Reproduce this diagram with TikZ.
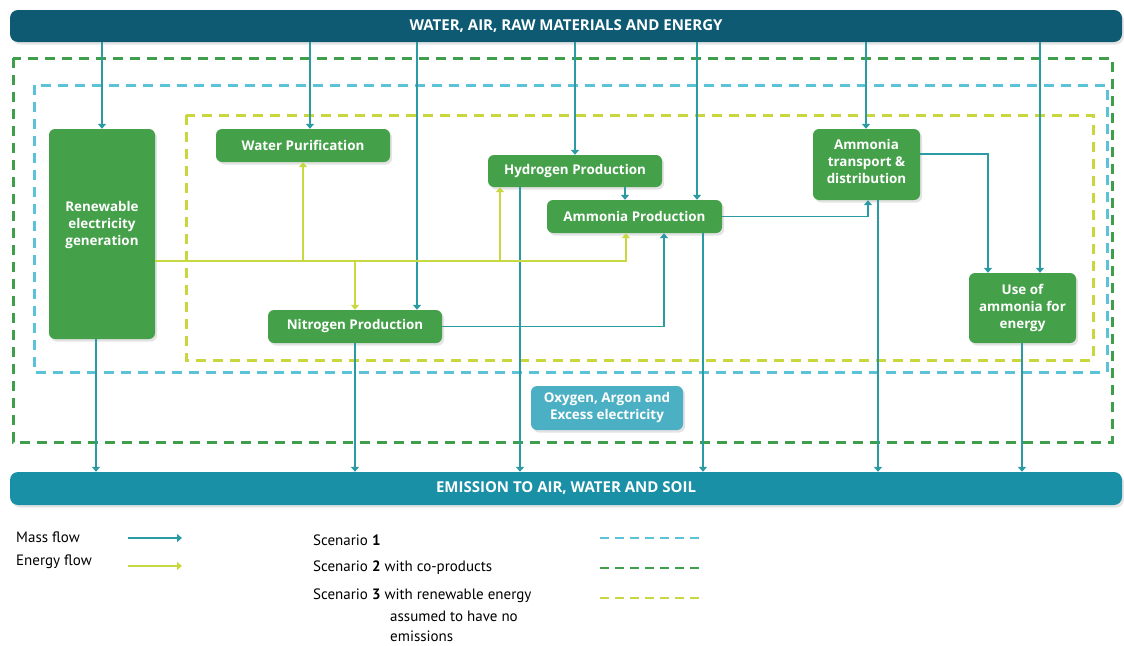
\documentclass[tikz,border=0pt]{standalone}
\usepackage{fontspec}
\setmainfont{Open Sans}
\newfontfamily\legendfont{PT Sans}
\usetikzlibrary{arrows.meta,shadows}
\definecolor{topbar}{HTML}{0E5A73}
\definecolor{embar}{HTML}{1A90A6}
\definecolor{boxgreen}{HTML}{45A04A}
\definecolor{masscol}{HTML}{2A9BA2}
\definecolor{energycol}{HTML}{C8D841}
\definecolor{scenA}{HTML}{5BC2D8}
\definecolor{scenB}{HTML}{3E9E4A}
\definecolor{scenC}{HTML}{C9D63D}
\definecolor{coprod}{HTML}{4CB0C4}
\tikzset{
  bar/.style={rounded corners=8pt, text=white, font=\bfseries\fontsize{15}{16}\selectfont, inner sep=0pt,
    drop shadow={opacity=0.2, shadow xshift=2pt, shadow yshift=-2.5pt}},
  procbox/.style={fill=boxgreen, rounded corners=6pt, text=white, align=center,
    font=\bfseries\fontsize{13.4}{17}\selectfont, inner sep=0pt,
    drop shadow={opacity=0.22, shadow xshift=2pt, shadow yshift=-2.5pt}},
  boxtext/.style={text=white, align=center, font=\bfseries\fontsize{13.4}{17}\selectfont, inner sep=0pt},
  mass/.style={draw=masscol, line width=1.8pt, -{Triangle[width=8pt,length=5pt]}},
  energy/.style={draw=energycol, line width=1.8pt, -{Triangle[width=8pt,length=5pt]}},
  scen/.style={line width=3pt, dash pattern=on 10pt off 7pt},
  legdash/.style={line width=2.6pt, dash pattern=on 9pt off 6pt},
  legtext/.style={anchor=west, inner sep=0pt, font=\legendfont\fontsize{15}{20}\selectfont}
}
\begin{document}
\begin{tikzpicture}[x=1pt,y=-1pt]
\useasboundingbox (0,0) rectangle (1124,645);
\fill[white] (0,0) rectangle (1124,645);

% scenario boundaries
\draw[scen, draw=scenB] (13,58) rectangle (1112,442);
\draw[scen, draw=scenA] (34,85) rectangle (1107,372);
\draw[scen, draw=scenC] (186,115) rectangle (1093,360);

% input and output bars
\node[bar, fill=topbar, minimum width=1112pt, minimum height=32pt] (top) at (566,26) {WATER, AIR, RAW MATERIALS AND ENERGY};
\node[bar, fill=embar, minimum width=1112pt, minimum height=33pt] (em) at (566,488.5) {EMISSION TO AIR, WATER AND SOIL};

% process boxes
\node[procbox, minimum width=106pt, minimum height=210pt] (ren) at (102,234) {};
\node[boxtext] (rent) at ([yshift=9pt]ren.center) {Renewable\\electricity\\generation};
\node[procbox, minimum width=174pt, minimum height=33pt] (wp) at (303,145.5) {Water Purification};
\node[procbox, minimum width=174pt, minimum height=32pt] (h2) at (575,171) {Hydrogen Production};
\node[procbox, minimum width=175pt, minimum height=33pt] (nh3) at (634.5,216.5) {Ammonia Production};
\node[procbox, minimum width=174pt, minimum height=33pt] (n2) at (355,326.5) {Nitrogen Production};
\node[procbox, minimum width=107pt, minimum height=71pt] (tr) at (866.5,164.5) {};
\node[boxtext] (trt) at ([yshift=3pt]tr.center) {Ammonia\\transport \&\\distribution};
\node[procbox, minimum width=107pt, minimum height=70pt] (use) at (1022.5,308) {Use of\\ammonia for\\energy};
\node[procbox, fill=coprod, minimum width=152pt, minimum height=44pt] (co) at (607,408) {Oxygen, Argon and\\Excess electricity};

% inputs from the top bar
\draw[mass] (top.south -| ren.north) -- (ren.north);
\draw[mass] ([xshift=7pt]wp.north |- top.south) -- ([xshift=7pt]wp.north);
\draw[mass] ([xshift=62pt]n2.north |- top.south) -- ([xshift=62pt]n2.north);
\draw[mass] (top.south -| h2.north) -- (h2.north);
\draw[mass] ([xshift=62.5pt]nh3.north |- top.south) -- ([xshift=62.5pt]nh3.north);
\draw[mass] ([xshift=-0.5pt]tr.north |- top.south) -- ([xshift=-0.5pt]tr.north);
\draw[mass] ([xshift=17.5pt]use.north |- top.south) -- ([xshift=17.5pt]use.north);

% mass flows between processes
\draw[mass] ([xshift=-9.5pt]nh3.north |- h2.south) -- ([xshift=-9.5pt]nh3.north);
\draw[mass] (n2.east) -| ([xshift=29.5pt]nh3.south);
\draw[mass] (nh3.east) -| ([xshift=1.5pt]tr.south);
\draw[mass] ([yshift=10.5pt]tr.east) -| ([xshift=-34.5pt]use.north);

% emissions
\draw[mass] ([xshift=-6pt]ren.south) -- ([xshift=-6pt]ren.south |- em.north);
\draw[mass] (n2.south) -- (n2.south |- em.north);
\draw[mass] ([xshift=-55pt]h2.south) -- ([xshift=-55pt]h2.south |- em.north);
\draw[mass] ([xshift=68.5pt]nh3.south) -- ([xshift=68.5pt]nh3.south |- em.north);
\draw[mass] ([xshift=11.5pt]tr.south) -- ([xshift=11.5pt]tr.south |- em.north);
\draw[mass] ([xshift=-0.5pt]use.south) -- ([xshift=-0.5pt]use.south |- em.north);

% energy distribution
\coordinate (e0) at ([yshift=-27pt]ren.east);
\draw[energy] (e0) -| ([xshift=-8.5pt]nh3.south);
\draw[energy] (wp.south |- e0) -- (wp.south);
\draw[energy] ([xshift=-75pt]h2.south |- e0) -- ([xshift=-75pt]h2.south);
\draw[energy] (n2.north |- e0) -- (n2.north);

% legend
\node[legtext] (lm) at (16,537) {Mass flow};
\node[legtext] (le) at (16,562) {Energy flow};
\coordinate (lma) at (128,538);
\coordinate (lmb) at (182,538);
\coordinate (lea) at (128,566);
\coordinate (leb) at (182,566);
\draw[mass] (lma) -- (lmb);
\draw[energy] (lea) -- (leb);

\node[legtext] (s1) at (313,540) {Scenario \textbf{1}};
\node[legtext] (s2) at (313,568) {Scenario \textbf{2} with co-products};
\node[legtext] (s3) at (313,596) {Scenario \textbf{3} with renewable energy};
\node[legtext] (s3b) at (390,616) {assumed to have no};
\node[legtext] (s3c) at (390,636) {emissions};
\coordinate (d1a) at (600,538); \coordinate (d1b) at (703,538);
\coordinate (d2a) at (600,568); \coordinate (d2b) at (703,568);
\coordinate (d3a) at (600,598); \coordinate (d3b) at (703,598);
\draw[legdash, draw=scenA] (d1a) -- (d1b);
\draw[legdash, draw=scenB] (d2a) -- (d2b);
\draw[legdash, draw=scenC] (d3a) -- (d3b);
\end{tikzpicture}
\end{document}
